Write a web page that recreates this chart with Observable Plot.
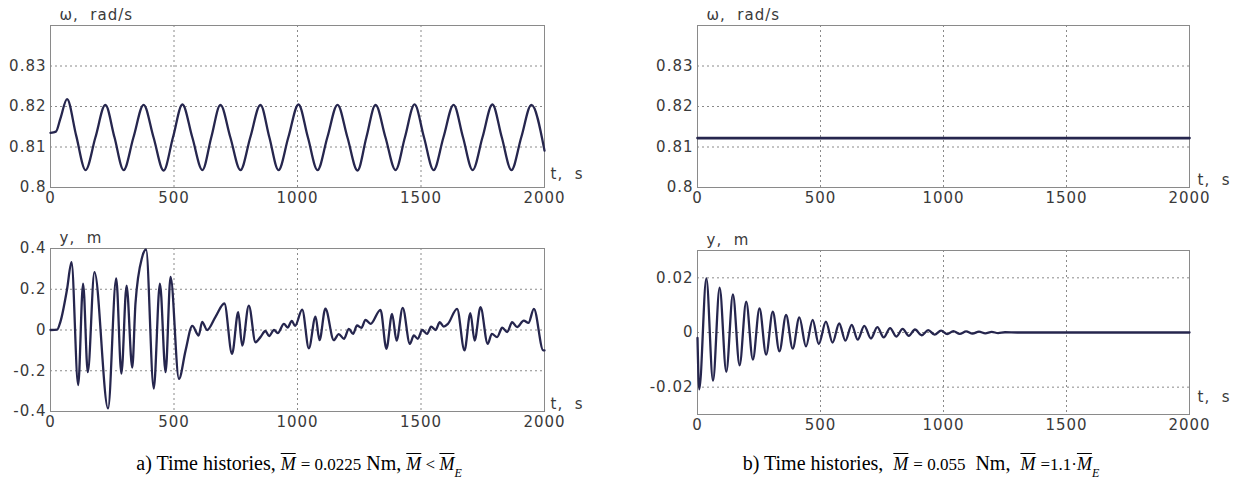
<!DOCTYPE html>
<html>
<head>
<meta charset="utf-8">
<script src="https://cdn.jsdelivr.net/npm/d3@7"></script>
<script src="https://cdn.jsdelivr.net/npm/@observablehq/plot@0.6"></script>
<style>
  html, body { margin: 0; padding: 0; background: #fff; }
  #root { position: relative; width: 1252px; height: 486px; overflow: hidden; background: #fff; }
  .pane { position: absolute; }
  .cap { position: absolute; top: 451px; font-family: "Liberation Serif", "Times New Roman", serif; font-size: 20px; line-height: 24px; color: #000; text-align: center; white-space: nowrap; }
  .m { font-style: italic; text-decoration: overline; text-decoration-thickness: 1px; font-size: 18px; }
  .cap sub { font-style: italic; font-size: 12px; vertical-align: -7px; }
  .num { font-size: 17px; }
</style>
</head>
<body>
<div id="root"></div>
<script>
// ---------- data ----------
const xTicks = [0, 500, 1000, 1500, 2000];
const xTickLabels = ["0", "500", "1000", "1500", "2000"];

// a) angular velocity ω (rad/s) vs time t (s): read peaks, troughs and mid-slope crossings
const omegaA_t = [0, 22, 40, 67, 104, 142, 182, 222, 259, 296, 336, 377, 417, 458, 496, 534, 574, 615, 651, 688, 728, 769, 809, 850, 886, 923, 963, 1004, 1042, 1081, 1121, 1162, 1202, 1243, 1279, 1316, 1356, 1397, 1435, 1474, 1512, 1551, 1591, 1632, 1670, 1709, 1749, 1789, 1827, 1866, 1906, 1947, 2000];
const omegaA_v = [0.8135, 0.8138, 0.8170, 0.8218, 0.8128, 0.8043, 0.8124, 0.8204, 0.8124, 0.8043, 0.8124, 0.8204, 0.8124, 0.8042, 0.8124, 0.8205, 0.8124, 0.8043, 0.8124, 0.8204, 0.8124, 0.8043, 0.8124, 0.8204, 0.8124, 0.8043, 0.8124, 0.8205, 0.8124, 0.8043, 0.8124, 0.8204, 0.8124, 0.8042, 0.8124, 0.8204, 0.8124, 0.8043, 0.8124, 0.8205, 0.8124, 0.8043, 0.8124, 0.8204, 0.8124, 0.8043, 0.8124, 0.8205, 0.8124, 0.8043, 0.8124, 0.8204, 0.8091];

// a) displacement y (m) vs time t (s)
const yA_t = [0, 27, 40, 67, 85, 112, 132, 151, 178, 233, 266, 287, 308, 331, 344, 371, 387, 418, 443, 466, 486, 520, 547, 574, 600, 614, 634, 668, 704, 735, 760, 776, 803, 830, 850, 870, 885, 905, 920, 945, 960, 977, 990, 1019, 1046, 1073, 1089, 1113, 1147, 1167, 1188, 1208, 1225, 1241, 1259, 1275, 1296, 1336, 1360, 1383, 1401, 1426, 1455, 1471, 1487, 1505, 1525, 1541, 1559, 1576, 1592, 1609, 1646, 1676, 1700, 1717, 1741, 1770, 1787, 1808, 1829, 1849, 1869, 1889, 1916, 1935, 1957, 1995, 2000];
const yA_v = [0, 0.002, 0.04, 0.2, 0.333, -0.27, 0.228, -0.207, 0.284, -0.385, 0.253, -0.214, 0.218, -0.185, 0.13, 0.357, 0.395, -0.287, 0.228, -0.207, 0.26, -0.24, -0.1, 0.02, -0.027, 0.04, 0.0, 0.065, 0.13, -0.117, 0.087, -0.076, 0.12, -0.06, -0.035, -0.005, -0.03, 0.0, -0.015, 0.03, 0.012, 0.045, 0.02, 0.1, -0.09, 0.066, -0.05, 0.105, -0.05, -0.02, -0.043, 0.006, -0.019, 0.022, 0.011, 0.05, 0.03, 0.099, -0.092, 0.079, -0.052, 0.109, -0.068, -0.027, -0.043, 0.0, -0.019, 0.017, 0.0, 0.038, 0.017, 0.03, 0.104, -0.1, 0.083, -0.052, 0.112, -0.068, -0.019, -0.035, 0.011, -0.01, 0.038, 0.014, 0.046, 0.035, 0.104, -0.1, -0.1];

// b) angular velocity ω (rad/s) vs time t (s)
const omegaB_t = [0, 2000];
const omegaB_v = [0.8122, 0.8122];

// b) displacement y (m) vs time t (s)
const yB_t = [0, 7, 36, 63, 90, 117, 144, 171, 198, 225, 252, 279, 306, 333, 360, 387, 414, 441, 468, 493, 522, 549, 576, 601, 627, 651, 678, 705, 731, 757, 783, 808, 834, 859, 884, 911, 938, 964, 990, 1015, 1040, 1066, 1092, 1118, 1144, 1170, 1196, 1222, 1250, 1300, 2000];
const yB_v = [-0.002, -0.0208, 0.0198, -0.0176, 0.0164, -0.0144, 0.0139, -0.012, 0.0113, -0.0099, 0.0088, -0.0081, 0.0076, -0.0069, 0.0064, -0.0059, 0.0055, -0.0051, 0.0046, -0.0042, 0.0040, -0.0037, 0.0033, -0.0030, 0.0028, -0.0026, 0.0024, -0.0022, 0.0020, -0.0018, 0.0016, -0.0015, 0.0013, -0.0012, 0.0011, -0.0010, 0.0009, -0.0008, 0.0007, -0.0006, 0.0005, -0.0005, 0.0004, -0.0004, 0.0003, -0.0003, 0.0002, -0.0002, 0.0001, 0, 0];

const omegaTicks = [0.8, 0.81, 0.82, 0.83];
const omegaTickLabels = ["0.8", "0.81", "0.82", "0.83"];
const yATicks = [-0.4, -0.2, 0, 0.2, 0.4];
const yATickLabels = ["-0.4", "-0.2", "0", "0.2", "0.4"];
const yBTicks = [-0.02, 0, 0.02];
const yBTickLabels = ["-0.02", "0", "0.02"];

const omegaName = "ω,\u00a0 rad/s";
const yName = "y,\u00a0 m";
const tName = "t,\u00a0 s";

// ---------- drawing ----------
const lineColor = "#26264e";
const textColor = "#3a3a3a";

function panel({t, v, yDomain, yTicks, yLabels, yTitle, ml, mr, mt, mb, curve, sw, tDx, tDy}) {
  const data = t.map((d, i) => ({t: d, v: v[i]}));
  const W = 626, H = 215;
  return Plot.plot({
    width: W, height: H,
    marginLeft: ml, marginRight: mr, marginTop: mt, marginBottom: mb,
    style: {fontFamily: "DejaVu Sans, sans-serif", fontSize: "15px", letterSpacing: "1px", color: textColor, background: "transparent", overflow: "visible"},
    x: {domain: [0, 2000]},
    y: {domain: yDomain},
    marks: [
      Plot.gridX(xTicks.slice(1, -1), {stroke: "#8a8a8a", strokeOpacity: 1, strokeDasharray: "2,3"}),
      Plot.gridY(yTicks.filter(d => d > yDomain[0] && d < yDomain[1]), {stroke: "#8a8a8a", strokeOpacity: 1, strokeDasharray: "2,3"}),
      Plot.frame({stroke: "#8a8a8a"}),
      Plot.line(data, {x: "t", y: "v", curve, stroke: lineColor, strokeWidth: sw, strokeLinejoin: "round"}),
      Plot.axisX({ticks: xTicks, tickFormat: d => xTickLabels[xTicks.indexOf(d)], tickSize: 0, tickPadding: 5, label: null, fill: textColor}),
      Plot.axisY({ticks: yTicks, tickFormat: d => yLabels[yTicks.indexOf(d)], tickSize: 0, tickPadding: 4, label: null, fill: textColor}),
      Plot.text([yTitle], {frameAnchor: "top-left", dx: 9, dy: -6, textAnchor: "start", lineAnchor: "bottom", fill: textColor, fontSize: 15}),
      Plot.text([tName], {frameAnchor: "bottom-right", dx: tDx, dy: tDy, textAnchor: "start", lineAnchor: "middle", fill: textColor, fontSize: 15})
    ]
  });
}

const root = document.getElementById("root");
function place(el, left, top) {
  const d = document.createElement("div");
  d.className = "pane";
  d.style.left = left + "px";
  d.style.top = top + "px";
  d.appendChild(el);
  root.appendChild(d);
}

place(panel({t: omegaA_t, v: omegaA_v, yDomain: [0.8, 0.84], yTicks: omegaTicks, yLabels: omegaTickLabels, yTitle: omegaName,
  ml: 50, mr: 82, mt: 25, mb: 28, curve: "monotone-x", sw: 2.3, tDx: 6, tDy: -13}), 0, 0);
place(panel({t: yA_t, v: yA_v, yDomain: [-0.4, 0.4], yTicks: yATicks, yLabels: yATickLabels, yTitle: yName,
  ml: 50, mr: 82, mt: 28, mb: 24, curve: "monotone-x", sw: 2.3, tDx: 6, tDy: -7}), 0, 220);
place(panel({t: omegaB_t, v: omegaB_v, yDomain: [0.8, 0.84], yTicks: omegaTicks, yLabels: omegaTickLabels, yTitle: omegaName,
  ml: 71, mr: 63, mt: 25, mb: 28, curve: "linear", sw: 2.6, tDx: 8, tDy: -7}), 626, 0);
place(panel({t: yB_t, v: yB_v, yDomain: [-0.03, 0.03], yTicks: yBTicks, yLabels: yBTickLabels, yTitle: yName,
  ml: 71, mr: 63, mt: 30, mb: 21, curve: "monotone-x", sw: 2.3, tDx: 8, tDy: -17}), 626, 220);

// captions
const capA = document.createElement("div");
capA.className = "cap";
capA.style.left = "0px"; capA.style.width = "598px";
capA.innerHTML = 'a) Time histories, <span class="m">M</span> <span class="num">= 0.0225</span> Nm, <span class="m">M</span><span class="num"> &lt; </span><span class="m">M</span><sub>E</sub>';
root.appendChild(capA);

const capB = document.createElement("div");
capB.className = "cap";
capB.style.left = "626px"; capB.style.width = "590px";
capB.innerHTML = 'b) Time histories,&nbsp; <span class="m">M</span> <span class="num">= 0.055</span>&nbsp; Nm,&nbsp; <span class="m">M</span> <span class="num">=1.1·</span><span class="m">M</span><sub>E</sub>';
root.appendChild(capB);
</script>
</body>
</html>
